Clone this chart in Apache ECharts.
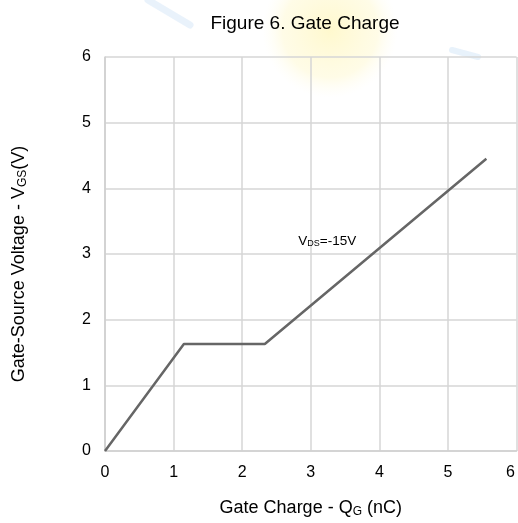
<!DOCTYPE html>
<html><head><meta charset="utf-8">
<script src="https://cdn.jsdelivr.net/npm/echarts@6/dist/echarts.min.js"></script>
<style>html,body{margin:0;padding:0;background:#fff}#c{width:518px;height:523px}</style>
</head><body><div id="c"></div>
<script>
const titleText = 'Figure 6. Gate Charge';
const xTicks = [0, 1, 2, 3, 4, 5, 6];
const yTicks = [0, 1, 2, 3, 4, 5, 6];
const qg = [0, 1.15, 2.33, 5.56];
const vgs = [0, 1.63, 1.63, 4.45];
const annotation = { x: 3.24, y: 3.2 };

const chart = echarts.init(document.getElementById('c'), null, {renderer: 'canvas'});
const FONT = 'Liberation Sans, Arial, sans-serif';
chart.setOption({
  backgroundColor: '#fff',
  animation: false,
  graphic: [
    { type: 'ellipse', z: -10, silent: true, shape: { cx: 330, cy: 30, rx: 105, ry: 68 },
      style: { fill: new echarts.graphic.RadialGradient(0.5, 0.5, 0.5, [
        { offset: 0, color: 'rgba(255,243,165,0.55)' },
        { offset: 0.7, color: 'rgba(255,247,195,0.4)' },
        { offset: 1, color: 'rgba(255,252,230,0)' }]) } },
    { type: 'line', z: -10, silent: true, shape: { x1: 148, y1: 0, x2: 190, y2: 25 },
      style: { stroke: 'rgba(215,232,248,0.55)', lineWidth: 7, lineCap: 'round' } },
    { type: 'line', z: -10, silent: true, shape: { x1: 452, y1: 50, x2: 478, y2: 57 },
      style: { stroke: 'rgba(210,230,248,0.5)', lineWidth: 6, lineCap: 'round' } }
  ],
  title: {
    text: titleText, left: 300, top: 9, textAlign: 'center',
    textStyle: { fontFamily: FONT, fontSize: 19, fontWeight: 'normal', color: '#000' }
  },
  grid: { left: 105, top: 57, right: -3, bottom: 70, containLabel: false },
  xAxis: {
    type: 'value', min: 0, max: 6, interval: 1,
    axisLine: { show: true, lineStyle: { color: '#cfcfcf', width: 1.5 } },
    axisTick: { show: false },
    splitLine: { show: true, lineStyle: { color: '#d6d6d6', width: 1.5 } },
    axisLabel: {
      margin: 14, color: '#000', fontFamily: FONT, fontSize: 16,
      formatter: v => v === 6 ? '{r|6}' : String(v),
      rich: { r: { fontFamily: FONT, fontSize: 16, color: '#000', padding: [0, 12, 0, 0] } }
    },
    name: '{n|Gate Charge - Q}{s|G}{n| (nC)}',
    nameLocation: 'middle', nameGap: 47,
    nameTextStyle: {
      rich: {
        n: { fontFamily: FONT, fontSize: 18, color: '#000' },
        s: { fontFamily: FONT, fontSize: 12, color: '#000', padding: [8, 0, 0, 0] }
      }
    }
  },
  yAxis: {
    type: 'value', min: 0, max: 6, interval: 1,
    axisLine: { show: true, lineStyle: { color: '#cfcfcf', width: 1.5 } },
    axisTick: { show: false },
    splitLine: { show: true, lineStyle: { color: '#d6d6d6', width: 1.5 } },
    axisLabel: { margin: 14, color: '#000', fontFamily: FONT, fontSize: 16 },
    name: '{n|Gate-Source Voltage - V}{s|GS}{n|(V)}',
    nameLocation: 'middle', nameGap: 76, nameRotate: 90,
    nameTextStyle: {
      padding: [0, 20, 0, 0],
      rich: {
        n: { fontFamily: FONT, fontSize: 18, color: '#000' },
        s: { fontFamily: FONT, fontSize: 12, color: '#000', padding: [8, 0, 0, 0] }
      }
    }
  },
  series: [{
    type: 'line',
    data: qg.map((x, i) => [x, vgs[i]]),
    showSymbol: false,
    lineStyle: { color: '#666666', width: 2.5 },
    markPoint: {
      symbol: 'circle', symbolSize: 0,
      data: [{ coord: [annotation.x, annotation.y] }],
      label: {
        show: true, position: 'inside',
        formatter: '{n|V}{s|DS}{n|=-15V}',
        rich: {
          n: { fontFamily: FONT, fontSize: 13.5, color: '#000' },
          s: { fontFamily: FONT, fontSize: 9, color: '#000', padding: [5, 0, 0, 0] }
        }
      }
    }
  }]
});
</script></body></html>
